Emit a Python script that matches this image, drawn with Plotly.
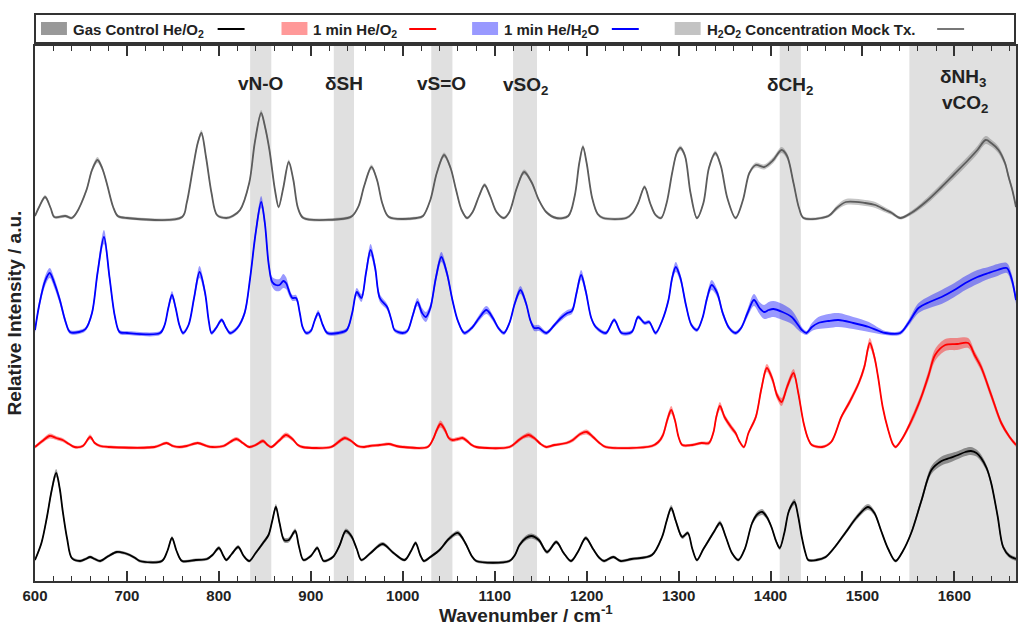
import plotly.graph_objects as go

# ---------------- data (wavenumber / cm-1, relative intensity a.u., std) ----------------
wn_mock = [600, 605, 611, 617, 621, 633, 640, 645, 656, 662,
           668, 673, 678, 685, 690, 700, 760, 765, 772, 777,
           781, 786, 792, 798, 808, 815, 823, 833, 839, 846,
           850, 855, 861, 865, 870, 876, 881, 886, 892, 940,
           945, 952, 958, 966, 972, 978, 985, 1015, 1022, 1030,
           1037, 1045, 1052, 1058, 1064, 1070, 1076, 1083, 1089, 1095,
           1102, 1110, 1116, 1124, 1132, 1140, 1148, 1156, 1167, 1180,
           1187, 1192, 1196, 1200, 1206, 1212, 1218, 1243, 1250, 1256,
           1263, 1269, 1275, 1281, 1287, 1293, 1298, 1302, 1307, 1313,
           1320, 1327, 1333, 1340, 1346, 1353, 1362, 1370, 1377, 1384,
           1393, 1403, 1412, 1418, 1425, 1431, 1436, 1463, 1472, 1482,
           1503, 1514, 1525, 1532, 1541, 1553, 1570, 1586, 1600, 1615,
           1625, 1634, 1640, 1648, 1655, 1659, 1663, 1667]
mean_mock = [2, 12, 21, 10, 1, 2, 0, 5, 28, 48,
             58, 50, 35, 11, 2, 0, 1, 15, 51, 75,
             85, 61, 25, 3, 0, 2, 8, 35, 75, 105,
             92, 68, 28, 11, 30, 56, 38, 10, 0, 0,
             2, 12, 32, 51, 38, 14, 1, 0, 2, 18,
             45, 63, 50, 28, 8, 0, 6, 22, 33, 22,
             6, 0, 6, 30, 46, 36, 18, 6, 0, 2,
             22, 55, 71, 55, 20, 4, 0, 0, 5, 15,
             31, 15, 3, 0, 15, 45, 65, 70, 62, 25,
             0, 15, 50, 65, 52, 20, 0, 18, 45, 53,
             51, 58, 68, 62, 35, 10, 0, 2, 10, 16,
             15, 13, 8, 5, 0, 5, 17, 31, 44, 58,
             68, 78, 75, 68, 55, 41, 28, 11]
sd_mock = [1.5, 1.5, 2, 1.5, 1.5, 1.5, 1.5, 1.5, 2, 2.5,
           3, 2.5, 2, 1.5, 1.5, 1.5, 1.5, 1.5, 2, 2.5,
           3, 2.5, 2, 1.5, 1.5, 1.5, 1.5, 2, 2.5, 3,
           3, 2.5, 2, 1.5, 2, 2.5, 2, 1.5, 1.5, 1.5,
           1.5, 1.5, 2, 2.5, 2, 1.5, 1.5, 1.5, 1.5, 1.5,
           2, 2.5, 2, 2, 1.5, 1.5, 1.5, 2, 2, 2,
           1.5, 1.5, 1.5, 2, 2.5, 2, 1.5, 1.5, 1.5, 1.5,
           2, 2.5, 2.5, 2.5, 2, 1.5, 1.5, 1.5, 1.5, 1.5,
           2, 1.5, 1.5, 1.5, 1.5, 2, 2.5, 2.5, 2.5, 2,
           1.5, 1.5, 2, 2.5, 2, 1.5, 1.5, 1.5, 2, 2.5,
           2.5, 3, 3, 3, 2, 1.5, 1.5, 1.5, 2.5, 3,
           3, 3, 2.5, 2, 1.5, 2, 3, 3.5, 4, 4,
           4, 4, 3.5, 3.5, 3, 3, 2.5, 2]

wn_h2o = [600, 605, 611, 616, 621, 627, 633, 638, 648, 655,
          662, 668, 675, 681, 687, 692, 700, 736, 741, 745,
          749, 753, 757, 761, 767, 773, 779, 785, 789, 792,
          797, 803, 808, 812, 820, 828, 834, 840, 846, 850,
          854, 858, 862, 866, 870, 873, 877, 880, 884, 888,
          891, 895, 900, 904, 908, 913, 918, 930, 939, 945,
          950, 955, 960, 965, 970, 975, 983, 988, 991, 1000,
          1005, 1011, 1016, 1021, 1025, 1030, 1036, 1042, 1048, 1054,
          1060, 1067, 1075, 1083, 1091, 1098, 1104, 1110, 1116, 1122,
          1128, 1134, 1139, 1143, 1148, 1156, 1165, 1172, 1179, 1184,
          1189, 1194, 1199, 1205, 1210, 1221, 1230, 1238, 1249, 1256,
          1263, 1268, 1275, 1282, 1289, 1293, 1297, 1302, 1308, 1314,
          1320, 1326, 1331, 1336, 1342, 1348, 1355, 1362, 1368, 1375,
          1382, 1388, 1393, 1398, 1403, 1413, 1423, 1430, 1434, 1439,
          1445, 1452, 1463, 1474, 1490, 1507, 1518, 1525, 1541, 1550,
          1561, 1573, 1586, 1600, 1612, 1625, 1637, 1647, 1657, 1662,
          1667]
mean_h2o = [3, 30, 52, 60, 50, 33, 12, 1, 1, 4,
            20, 60, 96, 56, 16, 1, 0, 0, 8, 25,
            38, 25, 8, 0, 8, 35, 61, 40, 12, 0,
            5, 13, 5, 0, 5, 20, 55, 100, 131, 110,
            70, 51, 48, 48, 52, 50, 40, 35, 35, 20,
            6, 0, 2, 12, 20, 8, 0, 0, 3, 20,
            41, 35, 60, 83, 65, 35, 26, 12, 3, 0,
            2, 18, 31, 20, 16, 25, 55, 76, 60, 33,
            12, 0, 5, 15, 23, 15, 5, 0, 10, 30,
            43, 30, 12, 5, 5, 0, 8, 15, 20, 22,
            40, 58, 42, 15, 6, 0, 13, 0, 1, 16,
            10, 11, 0, 12, 33, 55, 66, 55, 28, 8,
            3, 15, 35, 48, 40, 20, 5, 0, 5, 20,
            33, 25, 21, 23, 24, 21, 16, 8, 3, 0,
            6, 10, 12, 13, 10, 6, 2, 0, 0, 10,
            25, 31, 36, 43, 50, 56, 60, 63, 65, 55,
            33]
sd_h2o = [3, 4, 5, 5, 5, 4, 3, 2, 2, 2,
          3, 5, 7, 5, 3, 2, 2, 2, 2, 3,
          4, 3, 2, 2, 2, 4, 6, 4, 2, 2,
          2, 2, 2, 2, 2, 3, 4, 5, 6, 5,
          4, 5, 6, 6, 7, 6, 4, 3, 3, 3,
          2, 2, 2, 2, 3, 2, 2, 2, 2, 3,
          4, 4, 5, 6, 5, 4, 3, 2, 2, 2,
          2, 3, 4, 5, 5, 4, 5, 5, 4, 3,
          2, 2, 2, 3, 4, 3, 2, 2, 2, 3,
          4, 3, 2, 3, 3, 2, 2, 3, 3, 3,
          4, 5, 4, 2, 2, 2, 2, 2, 2, 2,
          2, 2, 2, 2, 3, 4, 5, 4, 3, 2,
          2, 2, 4, 5, 4, 3, 2, 2, 2, 4,
          6, 6, 7, 8, 8, 8, 7, 5, 3, 2,
          4, 6, 7, 7, 6, 5, 3, 2, 2, 3,
          5, 6, 7, 7, 7, 7, 6, 6, 5, 5,
          4]

wn_o2 = [600, 608, 616, 623, 630, 637, 643, 652, 660, 665,
         671, 680, 730, 743, 750, 757, 765, 777, 787, 793,
         805, 819, 826, 833, 840, 848, 853, 857, 865, 873,
         880, 886, 891, 922, 930, 937, 944, 951, 958, 964,
         975, 985, 993, 1000, 1027, 1033, 1037, 1041, 1046, 1050,
         1054, 1060, 1065, 1070, 1075, 1080, 1116, 1125, 1131, 1137,
         1143, 1150, 1156, 1165, 1178, 1185, 1193, 1200, 1207, 1214,
         1221, 1271, 1278, 1283, 1288, 1292, 1296, 1300, 1304, 1315,
         1325, 1333, 1338, 1341, 1345, 1350, 1357, 1362, 1366, 1371,
         1376, 1384, 1390, 1396, 1402, 1407, 1412, 1418, 1425, 1430,
         1436, 1441, 1445, 1456, 1466, 1477, 1486, 1496, 1502, 1508,
         1513, 1517, 1522, 1528, 1533, 1536, 1543, 1550, 1557, 1564,
         1572, 1579, 1590, 1603, 1615, 1622, 1629, 1640, 1651, 1660,
         1667]
mean_o2 = [0, 6, 11, 9, 7, 3, 0, 1, 10, 4,
           1, 0, 0, 4, 1, 0, 1, 4, 1, 0,
           1, 8, 4, 0, 2, 6, 2, 0, 6, 12,
           8, 2, 0, 0, 5, 9, 6, 1, 0, 1,
           2, 3, 1, 0, 0, 8, 17, 23, 17, 9,
           7, 8, 9, 6, 2, 0, 0, 6, 10, 12,
           9, 3, 0, 2, 4, 7, 13, 15, 10, 4,
           0, 1, 5, 12, 28, 37, 27, 10, 2, 2,
           4, 4, 15, 30, 41, 30, 20, 14, 6, 0,
           14, 30, 58, 79, 68, 52, 45, 60, 74, 55,
           24, 8, 2, 0, 5, 30, 45, 64, 80, 104,
           90, 70, 40, 17, 3, 0, 8, 20, 34, 50,
           72, 92, 102, 103, 104, 92, 80, 52, 24, 10,
           2]
sd_o2 = [1.5, 2, 2.5, 2, 2, 1.5, 1.5, 1.5, 2.5, 1.5,
         1.5, 1.5, 1.5, 1.5, 1.5, 1.5, 1.5, 1.5, 1.5, 1.5,
         1.5, 2, 1.5, 1.5, 1.5, 2, 1.5, 1.5, 2, 2.5,
         2, 1.5, 1.5, 1.5, 2, 2, 1.5, 1.5, 1.5, 1.5,
         1.5, 1.5, 1.5, 1.5, 1.5, 2, 3, 3.5, 3, 2,
         2, 2, 2, 2, 1.5, 1.5, 1.5, 2, 2, 2.5,
         2, 1.5, 1.5, 1.5, 1.5, 2, 2, 2.5, 2, 1.5,
         1.5, 1.5, 2, 3, 4, 4, 3, 2, 1.5, 1.5,
         1.5, 2, 3, 4, 4, 3, 3, 2.5, 2, 1.5,
         2, 3, 4, 4, 4, 4, 4, 4, 4, 3.5,
         3, 2, 1.5, 1.5, 1.5, 2, 3, 3, 4, 5,
         4, 3, 2.5, 2, 1.5, 1.5, 2, 3, 4, 4,
         5, 6, 6, 6, 5, 4, 4, 4, 3, 2,
         2]

wn_ctrl = [600, 607, 613, 618, 623, 627, 630, 635, 640, 649,
           655, 660, 665, 671, 680, 689, 697, 703, 709, 714,
           738, 744, 749, 754, 760, 775, 787, 793, 800, 805,
           808, 814, 821, 827, 833, 840, 848, 854, 858, 862,
           866, 871, 876, 883, 887, 892, 900, 907, 911, 914,
           924, 931, 938, 944, 950, 955, 965, 978, 990, 1002,
           1009, 1014, 1019, 1023, 1030, 1040, 1050, 1060, 1068, 1075,
           1080, 1116, 1122, 1127, 1134, 1140, 1148, 1157, 1167, 1175,
           1183, 1191, 1199, 1207, 1214, 1219, 1229, 1237, 1249, 1271,
           1282, 1287, 1292, 1297, 1304, 1310, 1315, 1320, 1327, 1333,
           1339, 1345, 1351, 1358, 1365, 1372, 1380, 1386, 1391, 1396,
           1401, 1406, 1410, 1415, 1420, 1426, 1430, 1434, 1438, 1441,
           1450, 1460, 1470, 1482, 1494, 1506, 1513, 1520, 1528, 1536,
           1544, 1553, 1564, 1575, 1586, 1595, 1604, 1612, 1618, 1624,
           1629, 1635, 1640, 1647, 1653, 1660, 1667]
mean_ctrl = [1, 18, 44, 70, 88, 72, 51, 22, 3, 0,
             2, 4, 2, 0, 5, 9, 8, 6, 3, 0,
             0, 10, 23, 10, 0, 1, 2, 6, 13, 5,
             1, 7, 14, 5, 0, 8, 18, 26, 40, 54,
             38, 21, 21, 30, 15, 1, 5, 13, 5, 0,
             4, 15, 30, 25, 12, 1, 8, 17, 8, 1,
             10, 18, 6, 0, 4, 11, 22, 28, 18, 5,
             0, 0, 6, 16, 23, 25, 21, 9, 19, 8,
             0, 10, 23, 12, 3, 0, 4, 0, 2, 6,
             24, 40, 53, 40, 24, 28, 12, 1, 12, 21,
             30, 38, 25, 8, 1, 12, 38, 47, 49, 44,
             34, 20, 13, 28, 50, 59, 45, 24, 8, 1,
             1, 4, 14, 29, 44, 54, 48, 31, 12, 0,
             10, 28, 60, 91, 100, 103, 106, 109, 110, 108,
             103, 93, 78, 45, 14, 5, 2]
sd_ctrl = [1.5, 2, 3, 3.5, 4, 3.5, 3, 2, 1.5, 1.5,
           1.5, 1.5, 1.5, 1.5, 1.5, 1.5, 1.5, 1.5, 1.5, 1.5,
           1.5, 1.5, 2, 1.5, 1.5, 1.5, 1.5, 1.5, 2, 1.5,
           1.5, 1.5, 2, 1.5, 1.5, 1.5, 2, 2, 2.5, 3,
           2.5, 2.5, 2.5, 2.5, 2, 1.5, 1.5, 2, 1.5, 1.5,
           1.5, 2, 2.5, 2.5, 2, 1.5, 1.5, 2, 1.5, 1.5,
           1.5, 2, 1.5, 1.5, 1.5, 1.5, 2, 2.5, 2, 1.5,
           1.5, 1.5, 1.5, 2, 2.5, 2.5, 2.5, 2, 2, 1.5,
           1.5, 1.5, 2, 1.5, 1.5, 1.5, 1.5, 1.5, 1.5, 1.5,
           2, 2.5, 3, 2.5, 2, 2, 1.5, 1.5, 1.5, 2,
           2, 2.5, 2, 1.5, 1.5, 2, 2.5, 3, 3, 2.5,
           2, 2, 2, 2, 2.5, 3, 2.5, 2, 1.5, 1.5,
           1.5, 1.5, 1.5, 2, 2.5, 3, 2.5, 2, 1.5, 1.5,
           1.5, 2, 3, 4, 4.5, 4.5, 4, 4, 4, 3.5,
           3.5, 3, 3, 3, 2.5, 2, 2]

# assignment bands (cm-1) and labels
band_lo = [834, 925, 1031, 1120, 1410, 1551]
band_hi = [857, 947, 1054, 1146, 1433, 1667]
band_labels = ["vN-O", "δSH", "vS=O", "vSO<sub>2</sub>", "δCH<sub>2</sub>",
               "δNH<sub>3</sub>"]
x_ticks = [600, 700, 800, 900, 1000, 1100, 1200, 1300, 1400, 1500, 1600]

# ---------------- styling ----------------
series = [
    # name, wn, mean, sd, stacking offset, line colour, band colour
    ("Gas Control He/O2", wn_ctrl, mean_ctrl, sd_ctrl, 20, "#000000", "rgba(0,0,0,0.38)"),
    ("1 min He/O2", wn_o2, mean_o2, sd_o2, 134, "#ff0000", "rgba(255,0,0,0.4)"),
    ("1 min He/H2O", wn_h2o, mean_h2o, sd_h2o, 248, "#0000ff", "rgba(0,0,255,0.4)"),
    ("H2O2 Concentration Mock Tx.", wn_mock, mean_mock, sd_mock, 363, "#5c5c5c", "rgba(90,90,90,0.35)"),
]

FONT = "Liberation Sans, Arial, sans-serif"
TXT = "#222222"
AX = "#333333"

fig = go.Figure()
for name, wn, m, s, off, lc, bc in series:
    upper = [off + a + b for a, b in zip(m, s)]
    lower = [off + a - b for a, b in zip(m, s)]
    fig.add_trace(go.Scatter(x=wn, y=upper, mode="lines",
                             line=dict(width=0, shape="spline", smoothing=0.9, color=bc),
                             hoverinfo="skip", showlegend=False))
    fig.add_trace(go.Scatter(x=wn, y=lower, mode="lines", fill="tonexty", fillcolor=bc,
                             line=dict(width=0, shape="spline", smoothing=0.9, color=bc),
                             hoverinfo="skip", showlegend=False))
    fig.add_trace(go.Scatter(x=wn, y=[off + a for a in m], mode="lines", name=name,
                             line=dict(width=1.8, color=lc, shape="spline", smoothing=0.9),
                             showlegend=False))

shapes = []
for lo, hi in zip(band_lo, band_hi):
    shapes.append(dict(type="rect", xref="x", yref="paper", x0=lo, x1=hi, y0=0, y1=1,
                       fillcolor="#e0e0e0", line=dict(width=0), layer="below"))

# plot-area pixel helpers for the hand-drawn legend box (plot area: x 35..1018, y 46..581)
def px(xp):
    return (xp - 35) / 983.0

def py(yp):
    return (581 - yp) / 535.0

shapes.append(dict(type="rect", xref="paper", yref="paper", x0=px(35), x1=px(1017),
                   y0=py(43), y1=py(14), line=dict(color=AX, width=2), fillcolor="white"))

legend_items = [
    ("Gas Control He/O<sub>2</sub>", "#999999", "#000000", 41, 71, 218),
    ("1 min He/O<sub>2</sub>", "#ff9999", "#ff0000", 282, 312, 410),
    ("1 min He/H<sub>2</sub>O", "#9999ff", "#0000ff", 473, 503, 613),
    ("H<sub>2</sub>O<sub>2</sub> Concentration Mock Tx.", "#c3c3c3", "#777777", 676, 706, 939),
]
annotations = []
for label, sw, lc, x_sw, x_txt, x_ln in legend_items:
    shapes.append(dict(type="rect", xref="paper", yref="paper", x0=px(x_sw), x1=px(x_sw + 26),
                       y0=py(35), y1=py(22), fillcolor=sw, line=dict(width=0)))
    shapes.append(dict(type="line", xref="paper", yref="paper", x0=px(x_ln), x1=px(x_ln + 27),
                       y0=py(29), y1=py(29), line=dict(color=lc, width=2)))
    annotations.append(dict(xref="paper", yref="paper", x=px(x_txt), y=py(30), text=label,
                            showarrow=False, xanchor="left", yanchor="middle",
                            font=dict(family=FONT, size=15, color=TXT, weight="bold")))

label_y = [83, 83, 83, 86, 86, 78]
for lo, hi, lab, yy in zip(band_lo, band_hi, band_labels, label_y):
    annotations.append(dict(xref="x", yref="paper", x=(lo + hi) / 2, y=py(yy), text=lab,
                            showarrow=False, xanchor="center", yanchor="middle",
                            font=dict(family=FONT, size=19, color=TXT, weight="bold")))
annotations.append(dict(xref="x", yref="paper", x=(band_lo[-1] + band_hi[-1]) / 2 + 3, y=py(104),
                        text="vCO<sub>2</sub>", showarrow=False, xanchor="center", yanchor="middle",
                        font=dict(family=FONT, size=19, color=TXT, weight="bold")))

annotations.append(dict(xref="paper", yref="paper", x=px(527), y=py(614),
                        text="Wavenumber / cm<sup>-1</sup>", showarrow=False,
                        xanchor="center", yanchor="middle",
                        font=dict(family=FONT, size=19, color=TXT, weight="bold")))
annotations.append(dict(xref="paper", yref="paper", x=px(14), y=0.5,
                        text="Relative Intensity / a.u.", showarrow=False, textangle=-90,
                        xanchor="center", yanchor="middle",
                        font=dict(family=FONT, size=19, color=TXT, weight="bold")))

fig.update_layout(
    width=1018, height=629,
    margin=dict(l=35, r=0, t=46, b=48),
    plot_bgcolor="white", paper_bgcolor="white",
    showlegend=False,
    shapes=shapes, annotations=annotations,
    xaxis=dict(range=[600, 1667], tickvals=x_ticks, ticks="inside", ticklen=10, tickwidth=1.5,
               tickcolor=AX, showline=True, linewidth=2, linecolor=AX, mirror="allticks",
               showgrid=False, zeroline=False,
               minor=dict(dtick=20, tick0=600, ticks="inside", ticklen=5, tickwidth=1.2,
                          tickcolor=AX, showgrid=False),
               tickfont=dict(family=FONT, size=15, color=TXT, weight="bold")),
    yaxis=dict(range=[0, 535], showticklabels=False, ticks="", showline=True, linewidth=2,
               linecolor=AX, mirror=True, showgrid=False, zeroline=False),
)

fig.write_html("out.html",
               config={"displayModeBar": False},
               post_script="document.body.style.margin='0px';"
                           "document.body.style.overflow='hidden';"
                           "document.documentElement.style.overflow='hidden';")
